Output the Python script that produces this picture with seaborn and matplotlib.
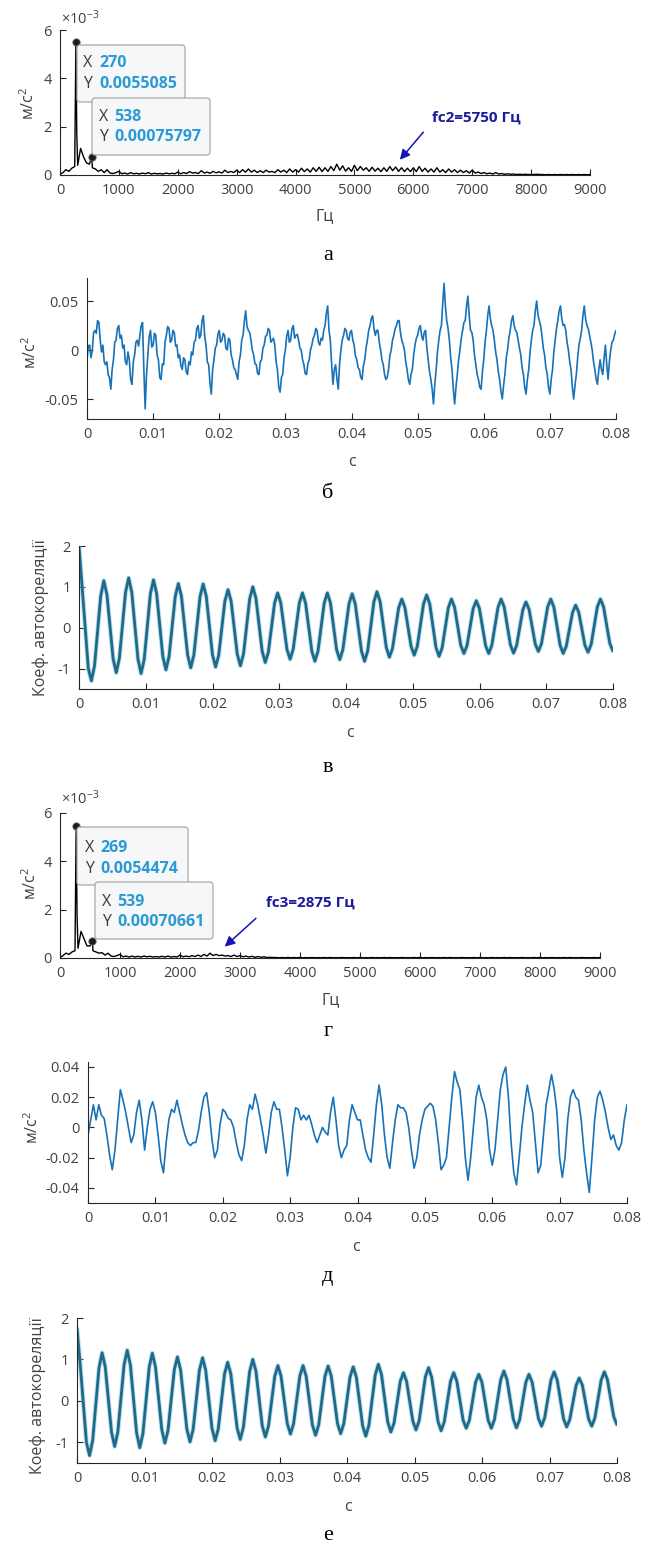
import numpy as np
import matplotlib
matplotlib.use("Agg")
import matplotlib.pyplot as plt
import seaborn as sns
from matplotlib.patches import FancyBboxPatch
from matplotlib.transforms import IdentityTransform

# ---------------- DATA ----------------
# Spectrum grid (Hz) and amplitudes (x1e-3 m/s^2)
spec_step_hz = 50
spec_a_floor = [
    0.02, 0.10, 0.22, 0.15, 0.28, 0.35, 0.40, 1.10, 0.75, 0.50, 0.45, 0.30, 0.25, 0.15, 0.22, 0.10, 0.22, 0.08, 0.06, 0.10,
    0.15, 0.05, 0.08, 0.04, 0.10, 0.05, 0.07, 0.04, 0.08, 0.05, 0.10, 0.04, 0.07, 0.05, 0.06, 0.04, 0.08, 0.05, 0.07, 0.05,
    0.12, 0.05, 0.10, 0.06, 0.14, 0.08, 0.10, 0.06, 0.18, 0.08, 0.12, 0.07, 0.15, 0.09, 0.13, 0.08, 0.20, 0.10, 0.15, 0.10,
    0.20, 0.10, 0.22, 0.12, 0.25, 0.12, 0.20, 0.10, 0.18, 0.10, 0.20, 0.12, 0.15, 0.10, 0.22, 0.12, 0.20, 0.10, 0.25, 0.12,
    0.22, 0.12, 0.28, 0.14, 0.25, 0.12, 0.30, 0.15, 0.32, 0.14, 0.30, 0.15, 0.35, 0.18, 0.45, 0.20, 0.38, 0.16, 0.30, 0.15,
    0.40, 0.18, 0.35, 0.20, 0.30, 0.15, 0.32, 0.16, 0.28, 0.14, 0.30, 0.15, 0.35, 0.18, 0.33, 0.15, 0.30, 0.14, 0.28, 0.14,
    0.30, 0.14, 0.35, 0.15, 0.28, 0.12, 0.25, 0.12, 0.30, 0.12, 0.22, 0.10, 0.25, 0.12, 0.22, 0.10, 0.20, 0.10, 0.18, 0.08,
    0.20, 0.08, 0.12, 0.06, 0.10, 0.05, 0.08, 0.04, 0.10, 0.04, 0.06, 0.03, 0.05, 0.03, 0.04, 0.02, 0.03, 0.02, 0.03, 0.02,
    0.02, 0.02, 0.03, 0.02, 0.02, 0.01, 0.02, 0.01, 0.02, 0.01, 0.02, 0.01, 0.02, 0.01, 0.02, 0.01, 0.02, 0.01, 0.02, 0.01,
    0.02,
]
spec_a_peak_hz = [270, 285, 538]
spec_a_peak_amp = [5.5085, 1.7, 0.75797]

spec_g_floor = [
    0.02, 0.10, 0.20, 0.15, 0.25, 0.30, 0.40, 1.10, 0.80, 0.50, 0.50, 0.30, 0.25, 0.20, 0.22, 0.12, 0.20, 0.08, 0.06, 0.10,
    0.15, 0.05, 0.08, 0.04, 0.08, 0.04, 0.07, 0.04, 0.08, 0.05, 0.07, 0.04, 0.06, 0.04, 0.07, 0.04, 0.08, 0.04, 0.06, 0.04,
    0.12, 0.05, 0.08, 0.05, 0.10, 0.06, 0.12, 0.06, 0.15, 0.08, 0.20, 0.10, 0.15, 0.10, 0.12, 0.08, 0.10, 0.06, 0.12, 0.06,
    0.10, 0.05, 0.08, 0.04, 0.07, 0.03, 0.06, 0.03, 0.05, 0.02, 0.03, 0.02, 0.02, 0.01, 0.02, 0.01, 0.02, 0.01, 0.02, 0.01,
    0.02, 0.01, 0.015, 0.01, 0.02, 0.01, 0.015, 0.01, 0.02, 0.01, 0.02, 0.01, 0.015, 0.01, 0.02, 0.01, 0.015, 0.01, 0.02, 0.01,
    0.02, 0.01, 0.015, 0.01, 0.02, 0.01, 0.015, 0.01, 0.02, 0.01, 0.02, 0.01, 0.015, 0.01, 0.02, 0.01, 0.015, 0.01, 0.02, 0.01,
    0.02, 0.01, 0.015, 0.01, 0.02, 0.01, 0.015, 0.01, 0.02, 0.01, 0.02, 0.01, 0.015, 0.01, 0.02, 0.01, 0.015, 0.01, 0.02, 0.01,
    0.02, 0.01, 0.015, 0.01, 0.02, 0.01, 0.015, 0.01, 0.02, 0.01, 0.02, 0.01, 0.015, 0.01, 0.02, 0.01, 0.015, 0.01, 0.02, 0.01,
    0.02, 0.01, 0.015, 0.01, 0.02, 0.01, 0.015, 0.01, 0.02, 0.01, 0.02, 0.01, 0.015, 0.01, 0.02, 0.01, 0.015, 0.01, 0.02, 0.01,
    0.02,
]
spec_g_peak_hz = [269, 284, 539]
spec_g_peak_amp = [5.4474, 1.8, 0.70661]

# Data tips (X, Y) shown on the spectra
tips_a = [(270, 0.0055085), (538, 0.00075797)]
tips_g = [(269, 0.0054474), (539, 0.00070661)]

# Time signal б, sample step 0.2 ms, values in x1e-3 m/s^2
sig_b_step_s = 0.0002
sig_b = [
    -10, 4, 5, -8, 0, 18, 20, 17, 30, 28, 10, -2, 5, -12, -15, -12, -25, -28, -40, -20,
    -10, 8, 10, 22, 25, 12, 15, 2, 5, -12, -15, -2, -10, -30, -35, -12, -5, 8, 10, 4,
    15, 25, 28, -20, -60, -25, -5, 14, 20, 3, 5, 17, 15, -5, -10, -28, -30, -14, -15, 8,
    15, 24, 22, 8, 10, 20, 18, 4, 5, -8, -5, -16, -20, -8, -10, -22, -25, -12, -15, -2,
    -5, 8, 10, 22, 25, 12, 15, 30, 35, 14, 5, -12, -15, -34, -45, -20, -10, 2, 5, 16,
    20, 8, 10, 17, 15, 2, 0, 12, 10, -5, -10, -18, -20, -25, -30, -12, -5, 10, 15, 30,
    40, 24, 20, 18, 10, 0, -5, -14, -15, -24, -25, -12, -10, 2, 5, 14, 15, 22, 20, 8,
    10, 12, 5, -12, -20, -38, -43, -28, -25, -8, 0, 14, 20, 8, 10, 22, 25, 12, 15, 16,
    10, 2, 0, -10, -15, -24, -25, -14, -10, 0, 5, 12, 15, 22, 20, 8, 5, 12, 10, 20,
    25, 38, 45, 20, 10, -15, -35, -20, -15, -30, -40, -14, 0, 10, 15, 22, 20, 12, 10, 18,
    20, 10, 5, -6, -10, -18, -20, -28, -30, -16, -10, 2, 10, 20, 25, 32, 35, 22, 15, 20,
    20, 8, 0, -10, -15, -25, -30, -28, -20, -6, 0, 10, 15, 22, 25, 30, 30, 18, 10, 6,
    0, -12, -20, -30, -35, -25, -20, -5, 5, 12, 15, 22, 25, 15, 10, 18, 20, 2, -10, -22,
    -30, -40, -55, -35, -20, -2, 10, 20, 25, 48, 68, 45, 30, 22, 10, -8, -20, -40, -55, -38,
    -25, -10, 0, 12, 20, 28, 30, 45, 55, 35, 20, 18, 10, -5, -15, -25, -30, -38, -40, -22,
    -10, 8, 20, 35, 45, 32, 25, 20, 10, -2, -10, -22, -30, -42, -50, -36, -25, -8, 0, 12,
    20, 30, 35, 25, 20, 18, 10, 2, -5, -18, -25, -38, -45, -30, -20, -2, 10, 20, 25, 40,
    50, 36, 30, 25, 15, 2, -5, -18, -25, -38, -45, -30, -20, -2, 10, 22, 30, 40, 45, 32,
    25, 26, 20, 8, 0, -12, -20, -38, -50, -36, -25, -8, 5, 12, 20, 35, 45, 32, 25, 22,
    15, 8, 0, -12, -20, -30, -35, -20, -10, -20, -25, -8, 5, -15, -30, -12, 0, 8, 10, 16,
    20,
]
# Time signal д, sample step 0.4 ms, values in x1e-3 m/s^2
sig_d_step_s = 0.0004
sig_d = [
    -5, 5, 15, 5, 15, 8, 6, -5, -18, -28,
    -15, 5, 25, 18, 10, 0, -10, -5, 10, 18,
    5, -15, 0, 12, 17, 10, -5, -22, -30, -10,
    5, 12, 10, 18, 10, 2, -5, -10, -12, -10,
    -10, -2, 10, 20, 23, 10, -8, -20, -15, 2,
    12, 10, 6, 5, 0, -10, -18, -22, -12, 5,
    15, 12, 22, 15, 5, -5, -17, -5, 10, 17,
    12, 12, 0, -15, -32, -20, 0, 13, 12, 5,
    8, 5, 8, 2, -5, -10, -5, 0, -3, -5,
    10, 20, 5, -12, -20, -15, -12, 5, 15, 10,
    5, 5, -5, -15, -20, -23, -5, 15, 28, 15,
    -5, -20, -27, -10, 5, 15, 13, 13, 10, 0,
    -15, -27, -20, -5, 5, 12, 14, 16, 14, 5,
    -10, -28, -25, -20, 0, 20, 37, 30, 25, 5,
    -20, -35, -20, 0, 20, 28, 20, 15, 5, -15,
    -25, -15, 5, 25, 35, 40, 20, -10, -30, -38,
    -20, 0, 15, 28, 18, 10, -10, -30, -25, -5,
    15, 25, 35, 25, 10, -20, -33, -20, 5, 20,
    25, 20, 18, 5, -15, -30, -43, -20, 5, 20,
    24, 18, 10, 0, -8, -5, -12, -15, -10, 5,
    15,
]

# Autocorrelation coefficients, sample step 0.465 ms
acf_step_s = 0.000465
acf_v = [
    2.0, 1.0, 0.0, -1.0, -1.30, -0.93, -0.08, 0.78,
    1.15, 0.81, 0.03, -0.76, -1.10, -0.75, 0.06, 0.87,
    1.22, 0.87, 0.05, -0.77, -1.12, -0.78, 0.03, 0.83,
    1.17, 0.84, 0.07, -0.70, -1.03, -0.71, 0.03, 0.76,
    1.08, 0.77, 0.05, -0.67, -0.98, -0.67, 0.05, 0.76,
    1.07, 0.77, 0.06, -0.66, -0.96, -0.68, -0.02, 0.65,
    0.93, 0.65, 0.0, -0.65, -0.93, -0.64, 0.04, 0.71,
    1.0, 0.72, 0.08, -0.57, -0.85, -0.60, 0.0, 0.60,
    0.85, 0.61, 0.04, -0.53, -0.77, -0.53, 0.04, 0.61,
    0.85, 0.60, 0.02, -0.57, -0.82, -0.57, 0.02, 0.60,
    0.85, 0.61, 0.04, -0.54, -0.78, -0.54, 0.03, 0.59,
    0.83, 0.58, 0.0, -0.57, -0.82, -0.57, 0.03, 0.63,
    0.88, 0.64, 0.08, -0.48, -0.72, -0.51, -0.01, 0.49,
    0.70, 0.49, 0.02, -0.46, -0.67, -0.45, 0.07, 0.58,
    0.80, 0.58, 0.05, -0.48, -0.70, -0.49, 0.0, 0.49,
    0.70, 0.50, 0.04, -0.43, -0.63, -0.44, 0.02, 0.47,
    0.66, 0.47, 0.02, -0.44, -0.63, -0.43, 0.04, 0.50,
    0.70, 0.50, 0.04, -0.42, -0.62, -0.43, 0.01, 0.44,
    0.63, 0.45, 0.03, -0.40, -0.58, -0.39, 0.06, 0.51,
    0.70, 0.50, 0.04, -0.43, -0.63, -0.45, -0.04, 0.37,
    0.55, 0.38, -0.03, -0.43, -0.60, -0.41, 0.05, 0.51,
    0.70, 0.51, 0.07, -0.38, -0.57,
]
acf_e = [
    1.75, 0.9, -0.05, -1.0, -1.32, -0.95, -0.08, 0.79,
    1.16, 0.82, 0.03, -0.76, -1.10, -0.75, 0.06, 0.87,
    1.22, 0.87, 0.05, -0.78, -1.13, -0.79, 0.01, 0.81,
    1.15, 0.82, 0.07, -0.69, -1.02, -0.71, 0.02, 0.75,
    1.06, 0.75, 0.04, -0.68, -0.99, -0.69, 0.03, 0.74,
    1.04, 0.74, 0.04, -0.66, -0.96, -0.68, -0.02, 0.65,
    0.93, 0.65, 0.0, -0.65, -0.93, -0.64, 0.04, 0.71,
    1.0, 0.72, 0.07, -0.59, -0.87, -0.61, -0.01, 0.59,
    0.85, 0.60, 0.03, -0.55, -0.80, -0.55, 0.03, 0.60,
    0.85, 0.60, 0.01, -0.58, -0.83, -0.58, 0.01, 0.59,
    0.84, 0.60, 0.03, -0.55, -0.79, -0.55, 0.02, 0.58,
    0.82, 0.57, -0.02, -0.60, -0.85, -0.59, 0.02, 0.62,
    0.88, 0.64, 0.07, -0.51, -0.75, -0.54, -0.04, 0.47,
    0.68, 0.47, -0.01, -0.49, -0.70, -0.48, 0.05, 0.58,
    0.80, 0.57, 0.04, -0.49, -0.72, -0.51, -0.02, 0.47,
    0.68, 0.48, 0.01, -0.46, -0.66, -0.47, -0.01, 0.45,
    0.64, 0.45, -0.01, -0.47, -0.66, -0.45, 0.03, 0.51,
    0.72, 0.51, 0.04, -0.44, -0.65, -0.46, -0.01, 0.45,
    0.64, 0.45, 0.02, -0.42, -0.61, -0.41, 0.05, 0.50,
    0.70, 0.50, 0.04, -0.43, -0.63, -0.45, -0.04, 0.37,
    0.55, 0.38, -0.03, -0.44, -0.61, -0.41, 0.05, 0.50,
    0.70, 0.51, 0.07, -0.38, -0.57,
]

freq_ticks = [0, 1000, 2000, 3000, 4000, 5000, 6000, 7000, 8000, 9000]
time_ticks = [0, 0.01, 0.02, 0.03, 0.04, 0.05, 0.06, 0.07, 0.08]
time_ticklabels = ['0', '0.01', '0.02', '0.03', '0.04', '0.05', '0.06', '0.07', '0.08']

# ---------------- STYLE ----------------
sns.set_style("ticks")
plt.rcParams['font.family'] = ['Open Sans', 'DejaVu Sans']
plt.rcParams['mathtext.fontset'] = 'custom'
plt.rcParams['mathtext.rm'] = 'Open Sans'
plt.rcParams['mathtext.it'] = 'Open Sans:italic'
plt.rcParams['mathtext.bf'] = 'Open Sans:bold'

W, H = 650, 1548
fig = plt.figure(figsize=(W / 100, H / 100), dpi=100)
fig.patch.set_facecolor('white')

AX_C = '#262626'
LBL_C = '#404040'
SIG_C = '#1872B8'
ACF_C = '#1E6A88'
TIP_VAL_C = '#2A9AD4'
ARROW_C = '#1515B5'
TICK_FS = 10.5


def add_ax(l, r, t, b):
    return fig.add_axes([l / W, 1 - b / H, (r - l) / W, (b - t) / H])


def ftext(x, y, s, **kw):
    return fig.text(x / W, 1 - y / H, s, **kw)


def style(ax):
    sns.despine(ax=ax)
    for sp in ['left', 'bottom']:
        ax.spines[sp].set_color(AX_C)
        ax.spines[sp].set_linewidth(0.8)
    ax.tick_params(direction='in', length=4, width=0.8, color=AX_C,
                   labelcolor=LBL_C, labelsize=TICK_FS, pad=6)
    ax.set_xlabel('')
    ax.set_ylabel('')
    ax.set_facecolor('none')


def spectrum(ax, floor, pk_hz, pk_amp):
    grid = np.arange(len(floor)) * spec_step_hz
    f = np.concatenate([grid, np.array(pk_hz, float)])
    a = np.concatenate([np.array(floor, float), np.array(pk_amp, float)]) * 1e-3
    order = np.argsort(f, kind='stable')
    sns.lineplot(x=f[order], y=a[order], ax=ax, color='black', linewidth=1.0,
                 estimator=None, sort=False)
    ax.set_xlim(0, 9000)
    ax.set_ylim(0, 6e-3)
    ax.set_xticks(freq_ticks)
    ax.set_xticklabels([str(v) for v in freq_ticks])
    ax.set_yticks([0, 2e-3, 4e-3, 6e-3])
    ax.set_yticklabels(['0', '2', '4', '6'])
    style(ax)


def datatip_markers(ax, tips):
    xs = [p[0] for p in tips]
    ys = [p[1] for p in tips]
    sns.scatterplot(x=xs, y=ys, ax=ax, color='#1c1c1c', s=28, edgecolor='#6b6b55',
                    linewidth=0.6, zorder=6, clip_on=False, legend=False)


def tipbox(l, t, r, b, rows):
    p = FancyBboxPatch((l, H - b), r - l, b - t, boxstyle='round,pad=0,rounding_size=3',
                       transform=IdentityTransform(), facecolor='#F6F7F9',
                       edgecolor='#A9A9A9', linewidth=0.9, zorder=10)
    fig.add_artist(p)
    for (xl, xv, y, lab, val) in rows:
        ftext(xl, y, lab, color='#3a3a3a', fontsize=11.5, ha='left', va='center', zorder=11)
        ftext(xv, y, val, color=TIP_VAL_C, fontsize=11.5, fontweight='bold',
              ha='left', va='center', zorder=11)


def time_axis(ax):
    ax.set_xlim(0, 0.08)
    ax.set_xticks(time_ticks)
    ax.set_xticklabels(time_ticklabels)
    style(ax)


# ---------------- PANEL а ----------------
ax_a = add_ax(60, 590, 30, 175)
spectrum(ax_a, spec_a_floor, spec_a_peak_hz, spec_a_peak_amp)
datatip_markers(ax_a, tips_a)
ax_a.annotate('', xy=(5740, 0.54e-3), xytext=(6200, 1.86e-3),
              arrowprops=dict(arrowstyle='-|>', color=ARROW_C, lw=1.1, mutation_scale=15))
ax_a.text(6310, 2.36e-3, 'fc2=5750 Гц', color='#1a1a9e', fontsize=11, fontweight='bold',
          ha='left', va='center')
ftext(61, 19, r'$\times10^{-3}$', color=LBL_C, fontsize=10.5, ha='left', va='center')
ftext(29, 103, 'м/с$^2$', color=LBL_C, fontsize=11.5, rotation=90, ha='center', va='center')
ftext(325, 216, 'Гц', color=LBL_C, fontsize=11.5, ha='center', va='center')
tipbox(77, 45, 185, 102, [(83, 99, 63, 'X', str(tips_a[0][0])),
                          (83, 99, 84, 'Y', f'{tips_a[0][1]:.7f}')])
tipbox(92, 98, 210, 155, [(99, 114, 117, 'X', str(tips_a[1][0])),
                          (99, 114, 137, 'Y', f'{tips_a[1][1]:.8f}')])

# ---------------- PANEL б ----------------
ax_b = add_ax(87, 616, 278, 419)
t_b = np.arange(len(sig_b)) * sig_b_step_s
sns.lineplot(x=t_b, y=np.array(sig_b) * 1e-3, ax=ax_b, color=SIG_C, linewidth=1.2,
             estimator=None, sort=False)
ax_b.set_ylim(-0.0704, 0.0735)
ax_b.set_yticks([-0.05, 0, 0.05])
ax_b.set_yticklabels(['-0.05', '0', '0.05'])
time_axis(ax_b)
ftext(31, 352, 'м/с$^2$', color=LBL_C, fontsize=11.5, rotation=90, ha='center', va='center')
ftext(352, 462, 'с', color=LBL_C, fontsize=11.5, ha='center', va='center')

# ---------------- PANEL в ----------------
ax_v = add_ax(79, 613, 546, 689)
t_acf = np.arange(len(acf_v)) * acf_step_s
sns.lineplot(x=t_acf, y=acf_v, ax=ax_v, color='#8fc9e3', linewidth=3.4, alpha=0.6,
             estimator=None, sort=False)
sns.lineplot(x=t_acf, y=acf_v, ax=ax_v, color=ACF_C, linewidth=2.0,
             estimator=None, sort=False)
ax_v.set_ylim(-1.5, 2)
ax_v.set_yticks([-1, 0, 1, 2])
ax_v.set_yticklabels(['-1', '0', '1', '2'])
time_axis(ax_v)
ftext(41, 618, 'Коеф. автокореляції', color=LBL_C, fontsize=11.5, rotation=90,
      ha='center', va='center')
ftext(350, 733, 'с', color=LBL_C, fontsize=11.5, ha='center', va='center')

# ---------------- PANEL г ----------------
ax_g = add_ax(60, 600, 813, 958)
spectrum(ax_g, spec_g_floor, spec_g_peak_hz, spec_g_peak_amp)
datatip_markers(ax_g, tips_g)
ax_g.annotate('', xy=(2710, 0.39e-3), xytext=(3300, 1.72e-3),
              arrowprops=dict(arrowstyle='-|>', color=ARROW_C, lw=1.1, mutation_scale=15))
ax_g.text(3440, 2.28e-3, 'fc3=2875 Гц', color='#1a1a9e', fontsize=11, fontweight='bold',
          ha='left', va='center')
ftext(61, 799, r'$\times10^{-3}$', color=LBL_C, fontsize=10.5, ha='left', va='center')
ftext(31, 883, 'м/с$^2$', color=LBL_C, fontsize=11.5, rotation=90, ha='center', va='center')
ftext(331, 1000, 'Гц', color=LBL_C, fontsize=11.5, ha='center', va='center')
tipbox(77, 827, 188, 885, [(85, 100, 848, 'X', str(tips_g[0][0])),
                           (85, 100, 869, 'Y', f'{tips_g[0][1]:.7f}')])
tipbox(95, 882, 213, 939, [(102, 117, 902, 'X', str(tips_g[1][0])),
                           (102, 117, 922, 'Y', f'{tips_g[1][1]:.8f}')])

# ---------------- PANEL д ----------------
ax_d = add_ax(88, 627, 1062, 1203)
t_d = np.arange(len(sig_d)) * sig_d_step_s
sns.lineplot(x=t_d, y=np.array(sig_d) * 1e-3, ax=ax_d, color=SIG_C, linewidth=1.2,
             estimator=None, sort=False)
ax_d.set_ylim(-0.05, 0.0433)
ax_d.set_yticks([-0.04, -0.02, 0, 0.02, 0.04])
ax_d.set_yticklabels(['-0.04', '-0.02', '0', '0.02', '0.04'])
time_axis(ax_d)
ftext(33, 1127, 'м/с$^2$', color=LBL_C, fontsize=11.5, rotation=90, ha='center', va='center')
ftext(356, 1247, 'с', color=LBL_C, fontsize=11.5, ha='center', va='center')

# ---------------- PANEL е ----------------
ax_e = add_ax(77, 617, 1318, 1463)
t_e = np.arange(len(acf_e)) * acf_step_s
sns.lineplot(x=t_e, y=acf_e, ax=ax_e, color='#8fc9e3', linewidth=3.4, alpha=0.6,
             estimator=None, sort=False)
sns.lineplot(x=t_e, y=acf_e, ax=ax_e, color=ACF_C, linewidth=2.0,
             estimator=None, sort=False)
ax_e.set_ylim(-1.5, 2)
ax_e.set_yticks([-1, 0, 1, 2])
ax_e.set_yticklabels(['-1', '0', '1', '2'])
time_axis(ax_e)
ftext(38, 1396, 'Коеф. автокореляції', color=LBL_C, fontsize=11.5, rotation=90,
      ha='center', va='center')
ftext(348, 1507, 'с', color=LBL_C, fontsize=11.5, ha='center', va='center')

# ---------------- captions ----------------
for letter, y in [('а', 255), ('б', 493), ('в', 768), ('г', 1032), ('д', 1277), ('е', 1535)]:
    ftext(328, y, letter, family='Liberation Serif', fontsize=16, color='black',
          ha='center', va='center')

fig.savefig('out.png', dpi=100)
